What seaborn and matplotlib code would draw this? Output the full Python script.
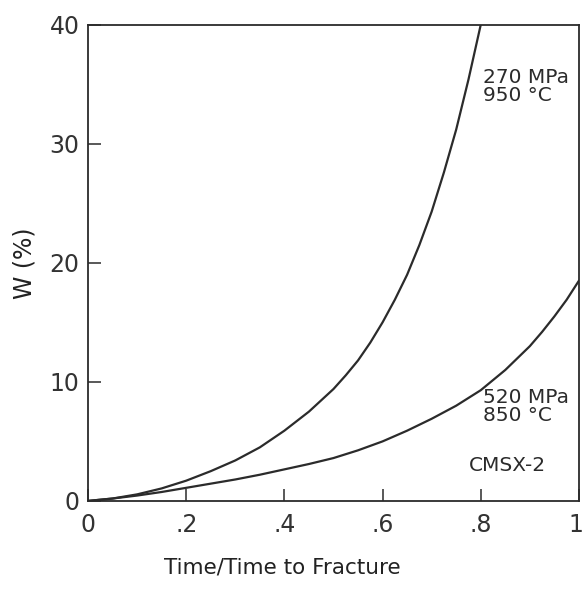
import numpy as np
import pandas as pd
import matplotlib
matplotlib.use("Agg")
import matplotlib.pyplot as plt
import matplotlib.transforms as mtransforms
import seaborn as sns

# Data
t_270 = [0.0, 0.05, 0.1, 0.15, 0.2, 0.25, 0.3, 0.35, 0.4, 0.45, 0.5, 0.525, 0.55, 0.575,
         0.6, 0.625, 0.65, 0.675, 0.7, 0.725, 0.75, 0.775, 0.8]
w_270 = [0.0, 0.2, 0.55, 1.05, 1.7, 2.5, 3.4, 4.5, 5.9, 7.5, 9.4, 10.55, 11.8, 13.3,
         15.0, 16.9, 19.0, 21.5, 24.3, 27.6, 31.2, 35.4, 40.0]
t_520 = [0.0, 0.05, 0.1, 0.15, 0.2, 0.25, 0.3, 0.35, 0.4, 0.45, 0.5, 0.55, 0.6, 0.65, 0.7,
         0.75, 0.8, 0.85, 0.9, 0.925, 0.95, 0.975, 1.0]
w_520 = [0.0, 0.2, 0.45, 0.75, 1.1, 1.45, 1.8, 2.2, 2.65, 3.1, 3.6, 4.25, 5.0, 5.9, 6.9,
         8.0, 9.3, 11.0, 13.0, 14.2, 15.5, 16.9, 18.5]
labels_curves = ["270 MPa\n950 °C", "520 MPa\n850 °C"]
x_ticks = [0, 0.2, 0.4, 0.6, 0.8, 1.0]
x_ticklabels = ["0", ".2", ".4", ".6", ".8", "1"]
y_ticks = [0, 10, 20, 30, 40]
y_ticklabels = ["0", "10", "20", "30", "40"]

df = pd.concat([
    pd.DataFrame({"t": t_270, "w": w_270, "curve": labels_curves[0]}),
    pd.DataFrame({"t": t_520, "w": w_520, "curve": labels_curves[1]}),
])

sns.set_style("ticks")
plt.rcParams['font.family'] = ['DejaVu Sans']

ink = "#2b2b2b"
fig = plt.figure(figsize=(5.83, 5.90), dpi=100)
ax = fig.add_axes([0.151, 0.151, 0.842, 0.807])

sns.lineplot(data=df, x="t", y="w", hue="curve", palette=[ink, ink],
             linewidth=1.6, legend=False, ax=ax, sort=False)

ax.set_xlim(0, 1)
ax.set_ylim(0, 40)
ax.set_xticks(x_ticks)
ax.set_xticklabels(x_ticklabels)
ax.set_yticks(y_ticks)
ax.set_yticklabels(y_ticklabels)
ax.tick_params(direction="in", length=9, width=1.1, color=ink,
               labelsize=17, labelcolor="#333333")
ax.tick_params(axis="x", pad=9)
ax.tick_params(axis="y", pad=6)
for s in ax.spines.values():
    s.set_visible(True)
    s.set_linewidth(1.3)
    s.set_color(ink)

# keep the last x tick label inside the figure
last = ax.get_xticklabels()[-1]
last.set_ha("right")
last.set_transform(last.get_transform() + mtransforms.ScaledTranslation(4 / 100, 0, fig.dpi_scale_trans))

ax.set_xlabel("Time/Time to Fracture", fontsize=15.5, color="#222222")
ax.xaxis.set_label_coords(0.395, -0.139)
ax.xaxis.label.set_va("center")
ax.set_ylabel("W (%)", fontsize=17, color="#222222")
ax.yaxis.set_label_coords(-0.13, 0.5)
ax.yaxis.label.set_va("center")

ax.text(0.805, 36.4, labels_curves[0], fontsize=14.5, color=ink, va="top", ha="left", linespacing=0.95)
ax.text(0.805, 9.5, labels_curves[1], fontsize=14.5, color=ink, va="top", ha="left", linespacing=0.95)
ax.text(0.775, 3.8, "CMSX-2", fontsize=14.5, color=ink, va="top", ha="left")

fig.savefig("out.png", dpi=100)
